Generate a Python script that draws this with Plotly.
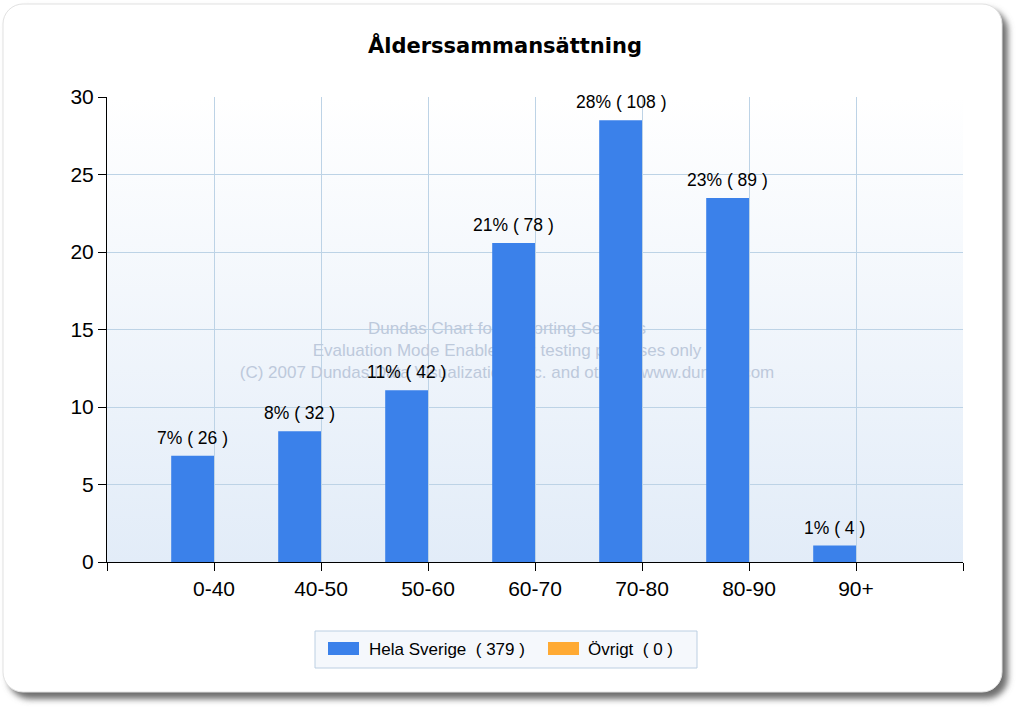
import base64
import plotly.graph_objects as go

# ---------------- data ----------------
categories = ["0-40", "40-50", "50-60", "60-70", "70-80", "80-90", "90+"]
series_names = ["Hela Sverige", "Övrigt"]
hela_pct = [6.86, 8.44, 11.08, 20.58, 28.50, 23.48, 1.06]
hela_counts = [26, 32, 42, 78, 108, 89, 4]
hela_pct_labels = [7, 8, 11, 21, 28, 23, 1]
ovrigt_pct = [0, 0, 0, 0, 0, 0, 0]
ovrigt_counts = [0, 0, 0, 0, 0, 0, 0]
y_ticks = [0, 5, 10, 15, 20, 25, 30]
title_text = "Ålderssammansättning"
watermark_lines = [
    "Dundas Chart for Reporting Services",
    "Evaluation Mode Enabled, for testing purposes only",
    "(C) 2007 Dundas Data Visualization, Inc. and others, www.dundas.com",
]

# ---------------- layout geometry ----------------
W, H = 1018, 708
L, R, T, B = 107, 963, 97, 562
PW, PH = R - L, B - T

def px(xp):
    return (xp - L) / PW

def py(yp):
    return (B - yp) / PH

BLUE = "#3B81EA"
ORANGE = "#FFAA33"
GRID = "#BDD3E6"
FONT = "Liberation Sans, Arial, sans-serif"
TITLE_FONT = "DejaVu Sans, Verdana, sans-serif"

positions = list(range(1, len(categories) + 1))
tickvals = [0] + positions + [len(categories) + 1]
ticktext = [""] + categories + [""]

svg = f'''<svg xmlns="http://www.w3.org/2000/svg" width="{W}" height="{H}" viewBox="0 0 {W} {H}">
<defs>
<filter id="s" x="-5%" y="-5%" width="110%" height="110%"><feGaussianBlur stdDeviation="3"/></filter>
<linearGradient id="g" x1="0" y1="0" x2="0" y2="1">
<stop offset="0" stop-color="#FFFFFF"/><stop offset="1" stop-color="#E2ECF8"/></linearGradient>
</defs>
<rect x="8" y="9" width="1000" height="690" rx="22" fill="#6e6e6e" filter="url(#s)"/>
<rect x="3" y="4" width="999" height="688" rx="20" fill="#FFFFFF" stroke="#E2E2E2" stroke-width="1"/>
<rect x="{L}" y="{T}" width="{PW}" height="{PH}" fill="url(#g)"/>
</svg>'''
svg_uri = "data:image/svg+xml;base64," + base64.b64encode(svg.encode()).decode()

fig = go.Figure()

# watermark (underlying axes, so bars cover it)
fig.add_trace(go.Scatter(
    x=[(507 - L) / PW * (len(categories) + 1)],
    y=[(B - 352) / PH * 30],
    mode="text",
    text=["<br>".join(watermark_lines)],
    textfont=dict(family=FONT, size=17, color="#BDC9DB"),
    textposition="middle center",
    hoverinfo="skip",
    showlegend=False,
    xaxis="x", yaxis="y",
))

fig.add_trace(go.Bar(
    x=positions, y=hela_pct, name=series_names[0],
    marker=dict(color=BLUE, line=dict(width=0)),
    xaxis="x2", yaxis="y2", showlegend=False,
))
fig.add_trace(go.Bar(
    x=positions, y=ovrigt_pct, name=series_names[1],
    marker=dict(color=ORANGE, line=dict(width=0)),
    xaxis="x2", yaxis="y2", showlegend=False,
))

annotations = []
for p, v, pl, c in zip(positions, hela_pct, hela_pct_labels, hela_counts):
    annotations.append(dict(
        x=p - 0.2, y=v, xref="x2", yref="y2",
        text=f"{pl}% ( {c} )", showarrow=False,
        yanchor="middle", yshift=18,
        font=dict(family=FONT, size=17.5, color="#000000"),
    ))

# legend (manual)
shapes = [
    dict(type="rect", xref="paper", yref="paper",
         x0=px(315), x1=px(697), y0=py(631), y1=py(668),
         fillcolor="#F5F8FC", line=dict(color="#BCCFE2", width=1), layer="above"),
    dict(type="rect", xref="paper", yref="paper",
         x0=px(328), x1=px(359), y0=py(642), y1=py(655),
         fillcolor=BLUE, line=dict(width=0), layer="above"),
    dict(type="rect", xref="paper", yref="paper",
         x0=px(548), x1=px(579), y0=py(642), y1=py(655),
         fillcolor=ORANGE, line=dict(width=0), layer="above"),
]
annotations.append(dict(
    x=px(367), y=py(649), xref="paper", yref="paper", xanchor="left", yanchor="middle",
    text=f"{series_names[0]}  ( {sum(hela_counts)} )", showarrow=False,
    font=dict(family=FONT, size=17, color="#000000"),
))
annotations.append(dict(
    x=px(586), y=py(649), xref="paper", yref="paper", xanchor="left", yanchor="middle",
    text=f"{series_names[1]}  ( {sum(ovrigt_counts)} )", showarrow=False,
    font=dict(family=FONT, size=17, color="#000000"),
))

xrange = [0, len(categories) + 1]
fig.update_layout(
    width=W, height=H,
    margin=dict(l=L, r=W - R, t=T, b=H - B, pad=0),
    paper_bgcolor="#FFFFFF",
    plot_bgcolor="rgba(0,0,0,0)",
    barmode="group", bargap=0.2, bargroupgap=0,
    title=dict(text=f"<b>{title_text}</b>", x=505 / W, xref="container", xanchor="center",
               y=1 - 46 / H, yref="container", yanchor="middle",
               font=dict(family=TITLE_FONT, size=21, color="#000000")),
    xaxis=dict(range=xrange, tickmode="array", tickvals=tickvals, ticktext=ticktext,
               showgrid=True, gridcolor=GRID, gridwidth=1, zeroline=False,
               showline=True, linecolor="#000000", linewidth=1,
               ticks="outside", ticklen=8, tickcolor="#000000",
               tickfont=dict(family=FONT, size=21, color="#000000"), fixedrange=True),
    yaxis=dict(range=[0, 30], tickmode="array", tickvals=y_ticks,
               showgrid=True, gridcolor=GRID, gridwidth=1, zeroline=False,
               showline=True, linecolor="#000000", linewidth=1,
               ticks="outside", ticklen=8, tickcolor="#000000",
               tickfont=dict(family=FONT, size=21, color="#000000"), fixedrange=True),
    xaxis2=dict(range=xrange, overlaying="x", visible=False, fixedrange=True),
    yaxis2=dict(range=[0, 30], overlaying="y", visible=False, fixedrange=True),
    shapes=shapes,
    annotations=annotations,
    images=[dict(source=svg_uri, xref="paper", yref="paper", x=px(0), y=py(0),
                 sizex=W / PW, sizey=H / PH, xanchor="left", yanchor="top",
                 sizing="stretch", layer="below")],
    showlegend=False,
)

fig.write_html("out.html")
